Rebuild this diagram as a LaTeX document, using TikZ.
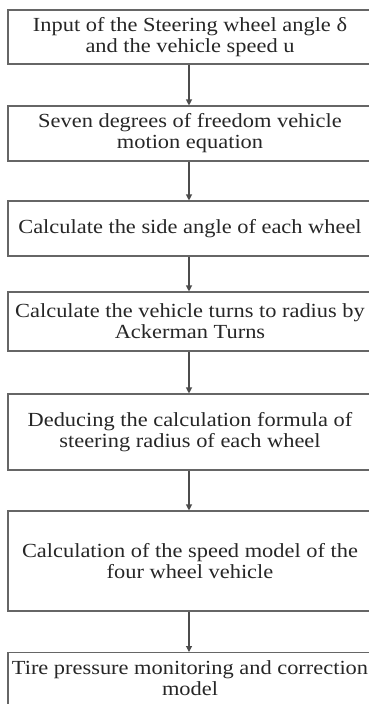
\documentclass[tikz,border=0pt]{standalone}
\usepackage{fontspec}
\setmainfont{Liberation Serif}[FakeStretch=1.12]
\usetikzlibrary{arrows.meta}
\begin{document}
\begin{tikzpicture}[x=1pt,y=-1pt,
  box/.style={draw=black!60, line width=1.1pt, minimum width=364pt, inner sep=0pt, align=center,
    font=\fontsize{20}{21}\selectfont, text=black!85},
  flow/.style={draw=black!70, line width=1.1pt, -{Triangle[length=6pt,width=6pt]}}]
\useasboundingbox (0,0) rectangle (369,704);
\clip (0,0) rectangle (369,704);
\node[box, minimum height=54pt] (b1) at (190,37) {Input of the Steering wheel angle δ\\and the vehicle speed u};
\node[box, minimum height=55pt] (b2) at (190,133.5) {Seven degrees of freedom vehicle\\motion equation};
\node[box, minimum height=55pt] (b3) at (190,228.5) {Calculate the side angle of each wheel};
\node[box, minimum height=59pt] (b4) at (190,321.5) {Calculate the vehicle turns to radius by\\Ackerman Turns};
\node[box, minimum height=76pt] (b5) at (190,432) {Deducing the calculation formula of\\steering radius of each wheel};
\node[box, minimum height=100pt] (b6) at (190,561) {Calculation of the speed model of the\\four wheel vehicle};
\node[box, minimum height=80pt, anchor=north] (b7) at (190,652) {\rule{0pt}{22pt}Tire pressure monitoring and correction\\model\\[34pt]};
\draw[flow] (b1.south -| 189,0) -- (b2.north -| 189,0);
\draw[flow] (b2.south -| 189,0) -- (b3.north -| 189,0);
\draw[flow] (b3.south -| 189,0) -- (b4.north -| 189,0);
\draw[flow] (b4.south -| 189,0) -- (b5.north -| 189,0);
\draw[flow] (b5.south -| 189,0) -- (b6.north -| 189,0);
\draw[flow] (b6.south -| 189,0) -- (b7.north -| 189,0);
\end{tikzpicture}
\end{document}
